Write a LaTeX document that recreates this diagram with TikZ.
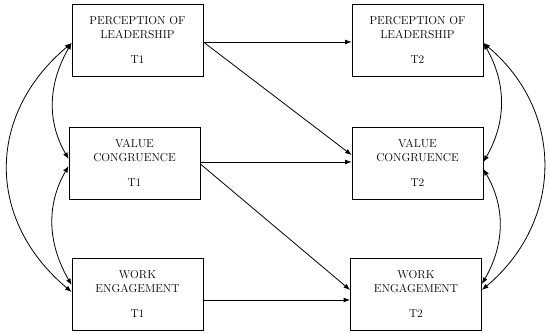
\documentclass[tikz,border=0pt]{standalone}
\usepackage{tikz}
\usetikzlibrary{arrows.meta,positioning}

\begin{document}
\begin{tikzpicture}[
    x=1pt,y=1pt,
    box/.style={rectangle,draw,line width=0.8pt,minimum width=131pt,
                minimum height=72pt,align=center,inner sep=0pt,
                font=\fontsize{11.5}{14}\selectfont},
    link/.style={->,line width=0.8pt},
    cov/.style={<->,line width=0.8pt},
    >={Latex[length=6.5pt,width=5pt]}
  ]
    \useasboundingbox (0,0) rectangle (550,334);
    % time 1
    \node[box] (PL1) at (137.5,294) {PERCEPTION OF\\LEADERSHIP\\[11pt]T1};
    \node[box] (VC1) at (134.5,171) {VALUE\\CONGRUENCE\\[11pt]T1};
    \node[box] (WE1) at (137.5,40) {WORK\\ENGAGEMENT\\[11pt]T1};
    % time 2
    \node[box] (PL2) at (417.5,294) {PERCEPTION OF\\LEADERSHIP\\[11pt]T2};
    \node[box] (VC2) at (417.5,171) {VALUE\\CONGRUENCE\\[11pt]T2};
    \node[box] (WE2) at (416,40) {WORK\\ENGAGEMENT\\[11pt]T2};
    % paths
    \draw[link] ([yshift=-2pt]PL1.east) -- ([yshift=-2pt]PL2.west);
    \draw[link] ([yshift=-2pt]PL1.east) -- ([yshift=8pt]VC2.west);
    \draw[link] ([yshift=1pt]VC1.east) -- ([yshift=1pt]VC2.west);
    \draw[link] ([yshift=-1pt]VC1.east) -- ([yshift=4pt]WE2.west);
    \draw[link] ([yshift=-6pt]WE1.east) -- ([yshift=-6pt]WE2.west);
    % correlations
    \draw[cov] ([yshift=-3pt]PL1.west) to[out=240,in=120] ([yshift=4pt]VC1.west);
    \draw[cov] ([yshift=-3pt]VC1.west) to[out=240,in=120] ([yshift=9pt]WE1.west);
    \draw[cov] ([yshift=-3pt]PL1.west) to[out=220,in=140,looseness=1.15] ([yshift=2pt]WE1.west);
    \draw[cov] ([yshift=-3pt]PL2.east) to[out=-60,in=60] ([yshift=1pt]VC2.east);
    \draw[cov] ([yshift=-6pt]VC2.east) to[out=-60,in=60] ([yshift=10pt]WE2.east);
    \draw[cov] ([yshift=-3pt]PL2.east) to[out=-40,in=40,looseness=1.1] ([yshift=4pt]WE2.east);
  \end{tikzpicture}
\end{document}
